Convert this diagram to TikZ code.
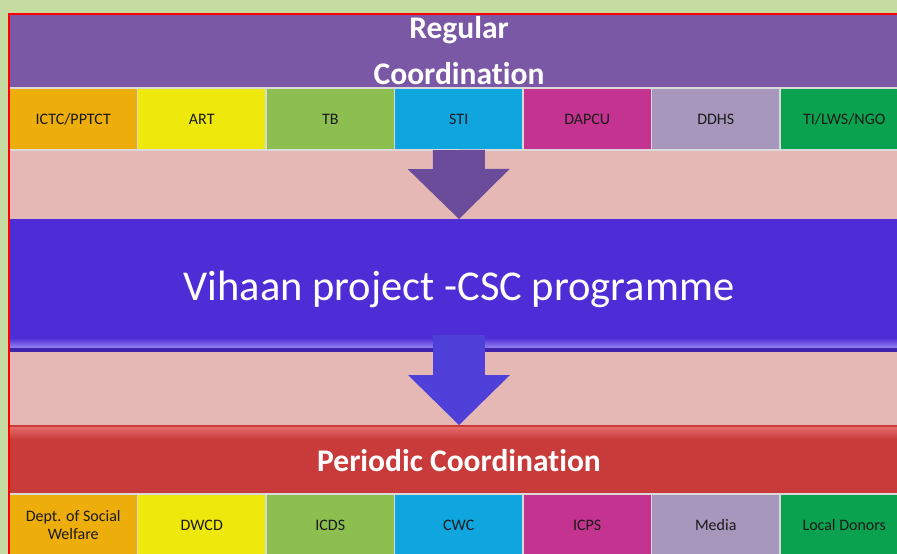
\documentclass[tikz,border=0pt]{standalone}
\usepackage{fontspec}
\setmainfont[Ligatures=NoCommon]{Carlito}
\usetikzlibrary{positioning,arrows.meta}

\definecolor{pageback}{HTML}{C6DBA2}
\definecolor{panelpink}{HTML}{E5B8B6}
\definecolor{regpurple}{HTML}{7B58A6}
\definecolor{cscblue}{HTML}{4F2DD6}
\definecolor{cscbevel}{HTML}{9584F2}
\definecolor{perred}{HTML}{C93B3B}
\definecolor{perbevel}{HTML}{E66B6B}
\definecolor{unitedge}{HTML}{DADADA}
\definecolor{labelink}{HTML}{1A1A1A}
\definecolor{unitorange}{HTML}{EDAE0B}
\definecolor{unityellow}{HTML}{EEE80D}
\definecolor{unitgreen}{HTML}{8CBF50}
\definecolor{unitcyan}{HTML}{0FA6E0}
\definecolor{unitmagenta}{HTML}{C3338F}
\definecolor{unitlilac}{HTML}{A897BD}
\definecolor{unitdkgreen}{HTML}{0BA24F}
\definecolor{regarrow}{HTML}{6A4C9B}
\definecolor{cscarrow}{HTML}{5040DA}

\begin{document}
\begin{tikzpicture}[x=1pt,y=-1pt,
  every node/.style={inner sep=0pt,outer sep=0pt},
  band/.style={minimum width=900pt,anchor=north west,text=white,align=center},
  unit/.style={minimum width=128.5pt,minimum height=62pt,draw=unitedge,line width=1.5pt,
    text=labelink,align=center,font=\fontsize{16}{17.5}\selectfont},
  downarrow/.style={line width=52pt,-{Triangle[width=102pt,length=50pt,line width=0pt]}}]
\useasboundingbox (0,0) rectangle (897,554);
\clip (0,0) rectangle (897,554);
\fill[pageback] (0,0) rectangle (897,554);
\fill[panelpink] (9,14) rectangle (910,560);

% regular coordination
\node[band,fill=regpurple,minimum height=74pt,font=\bfseries\fontsize{31.5}{46}\selectfont] (regular) at (9,14) {Regular\\Coordination};
\node[unit,fill=unitorange,anchor=north west] (ictc) at (9,88) {ICTC/PPTCT};
\node[unit,fill=unityellow,right=0pt of ictc] (art) {ART};
\node[unit,fill=unitgreen,right=0pt of art] (tb) {TB};
\node[unit,fill=unitcyan,right=0pt of tb] (sti) {STI};
\node[unit,fill=unitmagenta,right=0pt of sti] (dapcu) {DAPCU};
\node[unit,fill=unitlilac,right=0pt of dapcu] (ddhs) {DDHS};
\node[unit,fill=unitdkgreen,right=0pt of ddhs] (tilws) {TI/LWS/NGO};

% programme
\node[band,fill=cscblue,minimum height=133pt,font=\fontsize{42.5}{50}\selectfont] (vihaan) at (9,219) {\raisebox{-4pt}[\height][\depth]{Vihaan project -CSC programme}};
\shade[top color=cscblue,bottom color=cscbevel] ([yshift=14pt]vihaan.south west) rectangle ([yshift=4pt]vihaan.south east);
\fill[cscblue!80!black] ([yshift=4pt]vihaan.south west) rectangle (vihaan.south east);

% periodic coordination
\node[band,fill=perred,minimum height=68pt,font=\bfseries\fontsize{31.5}{38}\selectfont] (periodic) at (9,425) {\raisebox{-2pt}[\height][\depth]{Periodic Coordination}};
\shade[top color=perbevel,bottom color=perred] ([yshift=-2pt]periodic.north west) rectangle ([yshift=-14pt]periodic.north east);
\node[unit,fill=unitorange,anchor=north west] (social) at (9,494) {Dept. of Social\\Welfare};
\node[unit,fill=unityellow,right=0pt of social] (dwcd) {DWCD};
\node[unit,fill=unitgreen,right=0pt of dwcd] (icds) {ICDS};
\node[unit,fill=unitcyan,right=0pt of icds] (cwc) {CWC};
\node[unit,fill=unitmagenta,right=0pt of cwc] (icps) {ICPS};
\node[unit,fill=unitlilac,right=0pt of icps] (media) {Media};
\node[unit,fill=unitdkgreen,right=0pt of media] (donors) {Local Donors};

\draw[downarrow,regarrow] (sti.south) -- (vihaan.north);
\draw[downarrow,cscarrow] ([yshift=17pt]vihaan.south) -- (periodic.north);

\draw[red,line width=1.2pt] (9,560) -- (9,14) -- (910,14);
\end{tikzpicture}
\end{document}
